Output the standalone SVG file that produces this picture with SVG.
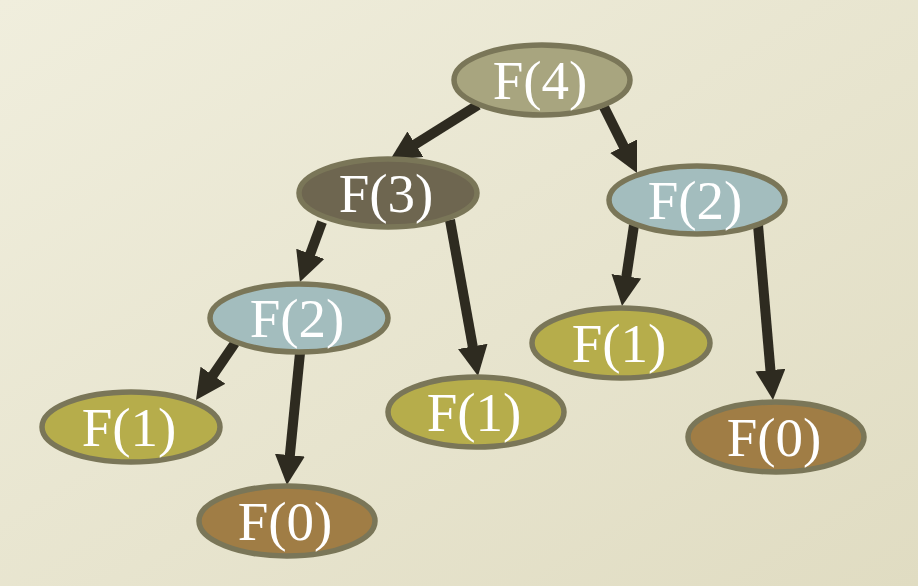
<svg xmlns="http://www.w3.org/2000/svg" width="918" height="586" viewBox="0 0 918 586">
<defs>
<linearGradient id="bg" x1="0" y1="0" x2="1" y2="1">
<stop offset="0" stop-color="#f0eedd"/>
<stop offset="1" stop-color="#e0dcc2"/>
</linearGradient>
<marker id="ah" markerUnits="userSpaceOnUse" markerWidth="32" markerHeight="32" refX="2" refY="15" orient="auto" viewBox="0 0 32 32">
<path d="M0,0 L30,15 L0,30 z" fill="#2e2b20"/>
</marker>
</defs>
<style>
.n ellipse{stroke:#7a7658;stroke-width:5.5}
.n text{font-family:"Liberation Serif",serif;font-size:55px;fill:#ffffff;text-anchor:middle}
#edges line{stroke:#2e2b20;stroke-width:10;marker-end:url(#ah)}
.f4{fill:#a8a57f}.f3{fill:#6e6650}.f2{fill:#a3bdbe}.f1{fill:#b6ad4b}.f0{fill:#a07d45}
</style>
<rect width="918" height="586" fill="url(#bg)"/>
<g id="edges">
<line x1="478" y1="105" x2="413.7" y2="145.2"/>
<line x1="604" y1="107" x2="624.5" y2="148"/>
<line x1="322" y1="222" x2="309.6" y2="255.7"/>
<line x1="450" y1="220" x2="473.1" y2="348.4"/>
<line x1="634" y1="225" x2="626.1" y2="278.3"/>
<line x1="758" y1="225" x2="770.6" y2="372.1"/>
<line x1="235" y1="343" x2="211.8" y2="376.9"/>
<line x1="300" y1="353" x2="289.7" y2="457.1"/>
</g>
<g id="f4" class="n"><ellipse class="f4" cx="542" cy="80" rx="88" ry="35"/><text x="540" y="99">F(4)</text></g>
<g id="f3" class="n"><ellipse class="f3" cx="388" cy="193" rx="89" ry="34"/><text x="386" y="212">F(3)</text></g>
<g id="f2r" class="n"><ellipse class="f2" cx="697" cy="200" rx="88" ry="34"/><text x="695" y="219">F(2)</text></g>
<g id="f2l" class="n"><ellipse class="f2" cx="299" cy="318" rx="89" ry="34"/><text x="297" y="337">F(2)</text></g>
<g id="f1l" class="n"><ellipse class="f1" cx="131" cy="427" rx="89" ry="35"/><text x="129" y="446">F(1)</text></g>
<g id="f0l" class="n"><ellipse class="f0" cx="287" cy="521" rx="88" ry="35"/><text x="285" y="540">F(0)</text></g>
<g id="f1m" class="n"><ellipse class="f1" cx="476" cy="412" rx="88" ry="35"/><text x="474" y="431">F(1)</text></g>
<g id="f1r" class="n"><ellipse class="f1" cx="621" cy="343" rx="89" ry="35"/><text x="619" y="362">F(1)</text></g>
<g id="f0r" class="n"><ellipse class="f0" cx="776" cy="437" rx="88" ry="35"/><text x="774" y="456">F(0)</text></g>
</svg>
